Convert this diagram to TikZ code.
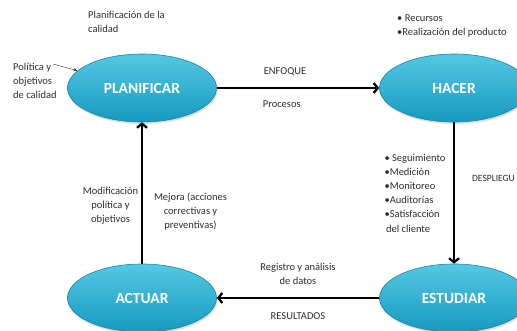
\documentclass[tikz,border=0pt]{standalone}
\usepackage{fontspec}
\setmainfont{Carlito}
\usepackage{tikz}
\usetikzlibrary{positioning,shapes.geometric,arrows.meta,shadows}
\definecolor{cianclaro}{RGB}{84,200,226}
\definecolor{cianoscuro}{RGB}{22,154,192}
\definecolor{cianborde}{RGB}{18,134,170}
\definecolor{texto}{RGB}{45,45,45}
\tikzset{
  fase/.style={ellipse,minimum width=149pt,minimum height=68pt,inner sep=0pt,
    top color=cianclaro,bottom color=cianoscuro,draw=cianborde,line width=0.6pt,
    drop shadow={opacity=0.25,shadow xshift=1pt,shadow yshift=-2pt},
    text=white,font=\fontsize{15.5}{18}\selectfont\bfseries},
  nota/.style={text=texto,font=\fontsize{10.5}{14.2}\selectfont,inner sep=0pt,align=center},
}

\begin{document}
\begin{tikzpicture}[x=1pt,y=-1pt,node distance=312pt,on grid,
    >={Straight Barb[length=4pt,width=10pt]}]
   \useasboundingbox (0,0) rectangle (517,331);
   \clip (0,0) rectangle (517,331);

   \node[fase] (plan) at (142,88) {PLANIFICAR};
   \node[fase] (hacer) [right=of plan] {HACER};
   \node[fase] (estudiar) [below=210pt of hacer] {ESTUDIAR};
   \node[fase] (actuar) [below=210pt of plan] {ACTUAR};

   % notas sueltas
   \node[nota,anchor=west,align=left] (planif) at (88,22) {Planificación de la\\calidad};
   \node[nota,anchor=west,align=left] (politica) at (13,81) {Política y\\objetivos\\de calidad};
   \node[nota,anchor=west,align=left] (recursos) at (397,26) {\textbullet\ Recursos\\\textbullet Realización del producto};
   \coordinate (pol_a) at (53,64);
   \draw[-{Stealth[length=4pt,width=3pt]},thin,texto] (pol_a) -- (plan.165);

   \path[->,draw,line width=2.3pt,every node/.style={nota}]
    (plan) edge node[pos=0.42,yshift=16pt] {ENFOQUE}
                node[pos=0.40,yshift=-16pt] {Procesos} (hacer)
    (hacer) edge node[pos=0.5,xshift=-39pt,align=left] {\textbullet\ Seguimiento\\\textbullet Medición\\\textbullet Monitoreo\\\textbullet Auditorías\\\textbullet Satisfacción\\\hspace*{1.5pt}del cliente}
                 node[pos=0.4,anchor=west,xshift=17pt,font=\fontsize{9.5}{12}\selectfont] {DESPLIEGU} (estudiar)
    (estudiar) edge node[pos=0.5,yshift=24pt] {Registro y análisis\\de datos}
                    node[pos=0.5,yshift=-18pt] {RESULTADOS} (actuar)
    (actuar) edge node[pos=0.41,xshift=-31.5pt] {Modificación\\política y\\objetivos}
                  node[pos=0.37,xshift=48.5pt] {Mejora (acciones\\correctivas y\\preventivas)} (plan);

\end{tikzpicture}
\end{document}
